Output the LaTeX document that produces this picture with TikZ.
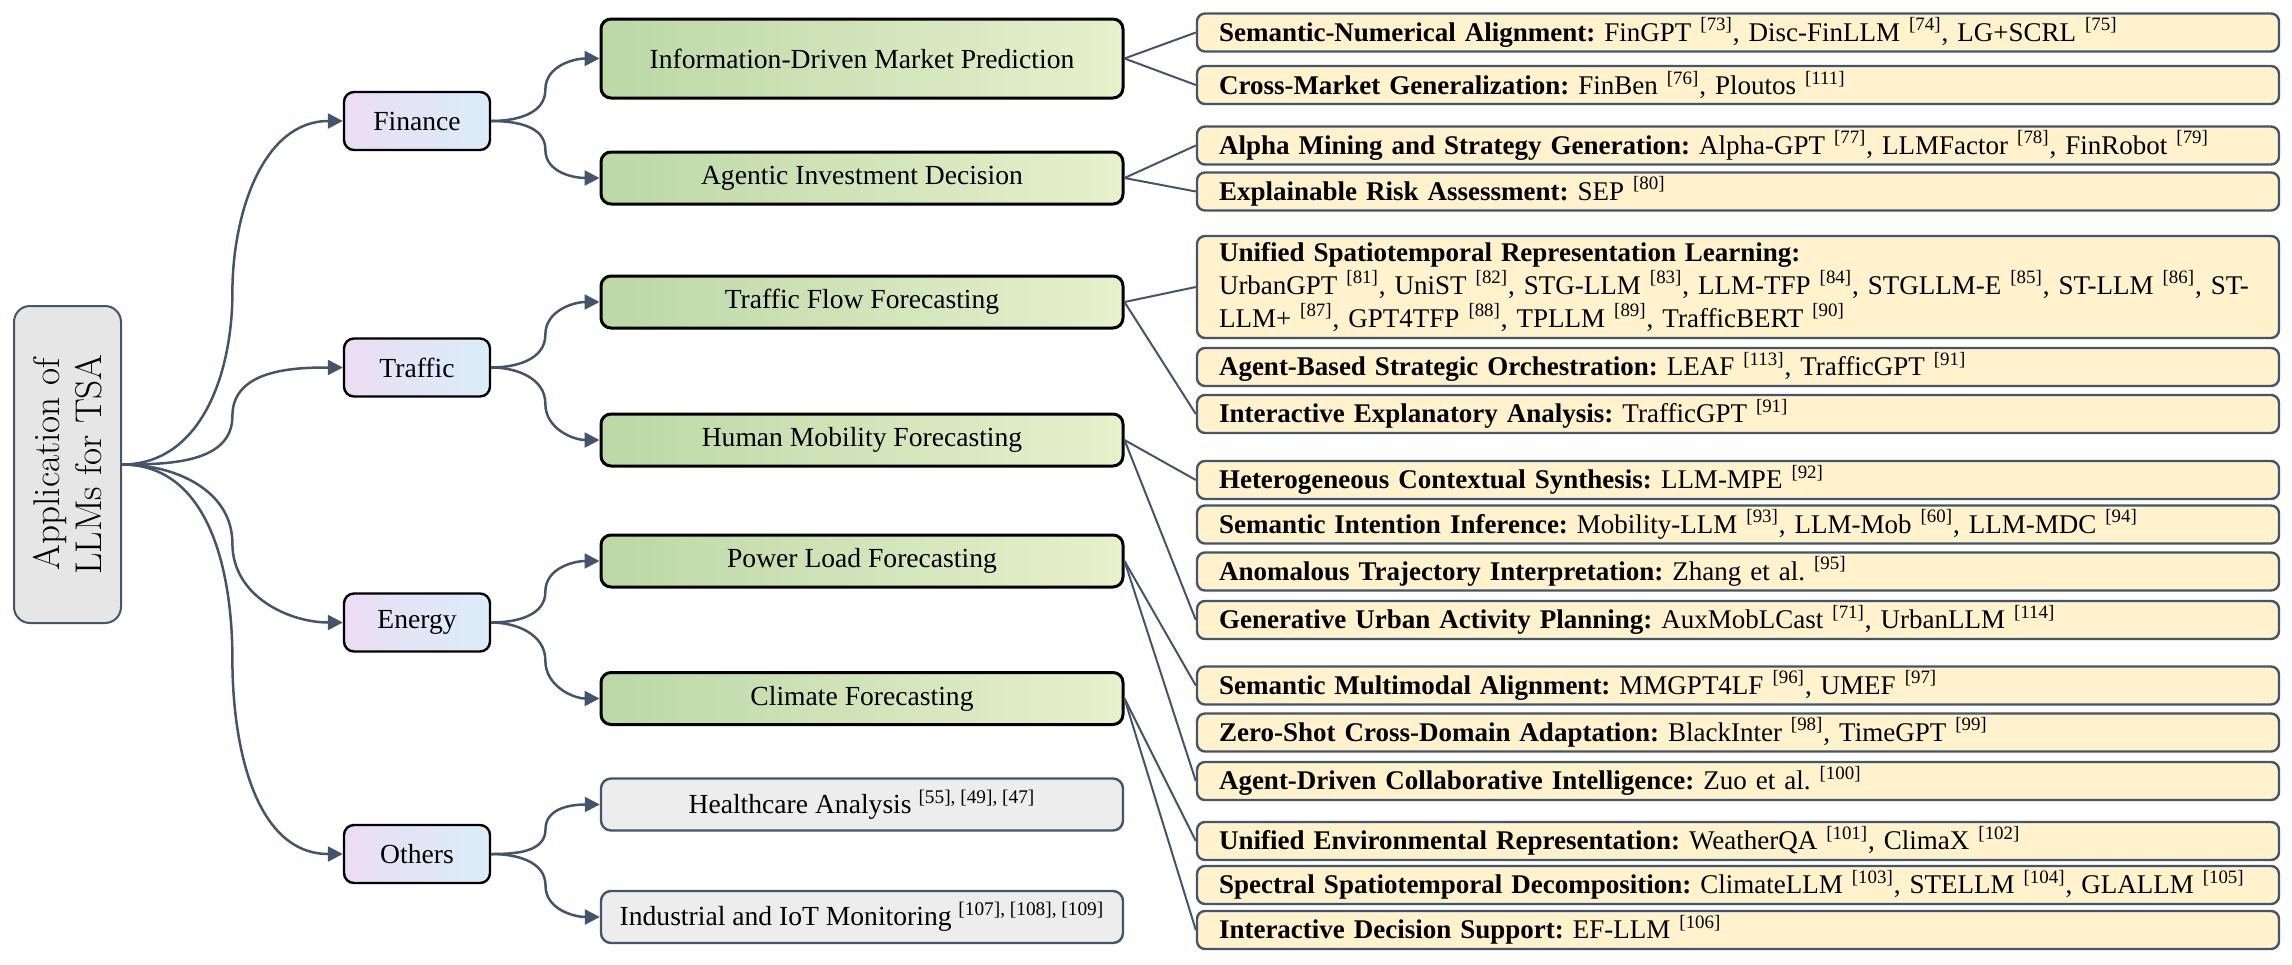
\documentclass[tikz,border=0pt]{standalone}
\usepackage{fontspec}
\newfontfamily\tnr{Liberation Serif}
\usetikzlibrary{arrows.meta,calc}
\definecolor{slate}{HTML}{44546A}
\definecolor{rootfill}{HTML}{E7E6E6}
\definecolor{otherfill}{HTML}{EDEDED}
\definecolor{leaffill}{HTML}{FFF2CC}
\definecolor{lonel}{HTML}{ECDDF4}
\definecolor{loner}{HTML}{DAEDF9}
\definecolor{ltwol}{HTML}{BBD8A6}
\definecolor{ltwor}{HTML}{E8F0CC}
\newcommand\refsup[1]{\textsuperscript{[#1]}}
\newcommand\curveup[2]{\draw[conn] (#1.east) to[out=0,in=-90] ($(#1.east)!0.5!(#2.west)$) to[out=90,in=180] (#2.west);}
\newcommand\curvedown[2]{\draw[conn] (#1.east) to[out=0,in=90] ($(#1.east)!0.5!(#2.west)$) to[out=-90,in=180] (#2.west);}
\tikzset{
  base/.style={rounded corners=5pt, inner sep=0pt, font=\tnr\fontsize{13.8}{16.3}\selectfont},
  rootbox/.style={draw=slate, line width=1pt, fill=rootfill, rounded corners=8pt, minimum width=53.5pt, minimum height=158.5pt},
  roottext/.style={rotate=90, align=center, inner sep=0pt, font=\fontsize{18.6}{21}\selectfont},
  lone/.style={base, draw=black, line width=1.2pt, left color=lonel, right color=loner, minimum width=73pt, minimum height=29pt},
  ltwo/.style={base, draw=black, line width=1.5pt, left color=ltwol, right color=ltwor, minimum width=261pt, minimum height=26pt},
  lother/.style={base, draw=slate, line width=1.2pt, fill=otherfill, minimum width=261pt, minimum height=26pt},
  leaf/.style={base, font=\tnr\fontsize{13.5}{16.3}\selectfont, draw=slate, line width=1.2pt, fill=leaffill, rounded corners=4pt, text width=519pt, inner xsep=11pt, inner ysep=2pt, minimum height=19pt, align=left},
  conn/.style={draw=slate, line width=1.25pt, -{Triangle[length=7.5pt,width=7.5pt]}},
  leafconn/.style={draw=slate, line width=1pt},
}
\begin{document}
\frenchspacing
\begin{tikzpicture}[x=0.5pt,y=0.5pt]
\path[use as bounding box] (0,0) rectangle (2292,-964);

% root
\node[rootbox] (root) at (67.5,-464.5) {};
\node[roottext] (rtext) at (root.center) {Application of\\LLMs for TSA};

% level 1
\node[lone] (fin) at (417,-121) {Finance};
\node[lone] (tra) at (417,-367.5) {Traffic};
\node[lone] (ene) at (417,-622.5) {Energy};
\node[lone] (oth) at (417,-854) {Others};

% level 2
\node[ltwo, minimum height=39.5pt] (idm) at (862,-58.5) {Information-Driven Market Prediction};
\node[ltwo] (aid) at (862,-178) {Agentic Investment Decision};
\node[ltwo] (tff) at (862,-302) {Traffic Flow Forecasting};
\node[ltwo] (hmf) at (862,-440) {Human Mobility Forecasting};
\node[ltwo] (plf) at (862,-561) {Power Load Forecasting};
\node[ltwo] (clf) at (862,-698.5) {Climate Forecasting};
\node[lother] (hca) at (862,-804.5) {Healthcare Analysis \textsuperscript{[55], [49], [47]}};
\node[lother] (iot) at (862,-917) {Industrial and IoT Monitoring \textsuperscript{[107], [108], [109]}};

% leaves
\node[leaf] (l1) at (1738,-32.5) {\mbox{\textbf{Semantic-Numerical Alignment:} FinGPT \refsup{73}, Disc-FinLLM \refsup{74}, LG+SCRL \refsup{75}}};
\node[leaf] (l2) at (1738,-85) {\mbox{\textbf{Cross-Market Generalization:} FinBen \refsup{76}, Ploutos \refsup{111}}};
\node[leaf] (l3) at (1738,-145.5) {\mbox{\textbf{Alpha Mining and Strategy Generation:} Alpha-GPT \refsup{77}, LLMFactor \refsup{78}, FinRobot \refsup{79}}};
\node[leaf] (l4) at (1738,-191.5) {\mbox{\textbf{Explainable Risk Assessment:} SEP \refsup{80}}};
\node[leaf, minimum height=51pt] (l5) at (1738,-287) {\textbf{Unified Spatiotemporal Representation Learning:}\\ \mbox{UrbanGPT \refsup{81}, UniST \refsup{82}, STG-LLM \refsup{83}, LLM-TFP \refsup{84}, STGLLM-E \refsup{85}, ST-LLM \refsup{86}, ST-}\\ \mbox{LLM+ \refsup{87}, GPT4TFP \refsup{88}, TPLLM \refsup{89}, TrafficBERT \refsup{90}}};
\node[leaf] (l6) at (1738,-367) {\mbox{\textbf{Agent-Based Strategic Orchestration:} LEAF \refsup{113}, TrafficGPT \refsup{91}}};
\node[leaf] (l7) at (1738,-414) {\mbox{\textbf{Interactive Explanatory Analysis:} TrafficGPT \refsup{91}}};
\node[leaf] (l8) at (1738,-480) {\mbox{\textbf{Heterogeneous Contextual Synthesis:} LLM-MPE \refsup{92}}};
\node[leaf] (l9) at (1738,-524.5) {\mbox{\textbf{Semantic Intention Inference:} Mobility-LLM \refsup{93}, LLM-Mob \refsup{60}, LLM-MDC \refsup{94}}};
\node[leaf] (l10) at (1738,-571.5) {\mbox{\textbf{Anomalous Trajectory Interpretation:} Zhang et al. \refsup{95}}};
\node[leaf] (l11) at (1738,-620) {\mbox{\textbf{Generative Urban Activity Planning:} AuxMobLCast \refsup{71}, UrbanLLM \refsup{114}}};
\node[leaf] (l12) at (1738,-685.5) {\mbox{\textbf{Semantic Multimodal Alignment:} MMGPT4LF \refsup{96}, UMEF \refsup{97}}};
\node[leaf] (l13) at (1738,-732.5) {\mbox{\textbf{Zero-Shot Cross-Domain Adaptation:} BlackInter \refsup{98}, TimeGPT \refsup{99}}};
\node[leaf] (l14) at (1738,-781) {\mbox{\textbf{Agent-Driven Collaborative Intelligence:} Zuo et al. \refsup{100}}};
\node[leaf] (l15) at (1738,-841) {\mbox{\textbf{Unified Environmental Representation:} WeatherQA \refsup{101}, ClimaX \refsup{102}}};
\node[leaf] (l16) at (1738,-885) {\mbox{\textbf{Spectral Spatiotemporal Decomposition:} ClimateLLM \refsup{103}, STELLM \refsup{104}, GLALLM \refsup{105}}};
\node[leaf] (l17) at (1738,-930) {\mbox{\textbf{Interactive Decision Support:} EF-LLM \refsup{106}}};

% curved arrows
\curveup{root}{fin}
\curveup{root}{tra}
\curvedown{root}{ene}
\curvedown{root}{oth}
\curveup{fin}{idm}
\curvedown{fin}{aid}
\curveup{tra}{tff}
\curvedown{tra}{hmf}
\curveup{ene}{plf}
\curvedown{ene}{clf}
\curveup{oth}{hca}
\curvedown{oth}{iot}

% straight leaf connectors
\draw[leafconn] (idm.east) -- (l1.west);
\draw[leafconn] (idm.east) -- (l2.west);
\draw[leafconn] (aid.east) -- (l3.west);
\draw[leafconn] (aid.east) -- (l4.west);
\draw[leafconn] (tff.east) -- (l5.west);
\draw[leafconn] (tff.east) -- (l7.west);
\draw[leafconn] (hmf.east) -- (l8.west);
\draw[leafconn] (hmf.east) -- (l11.west);
\draw[leafconn] (plf.east) -- (l12.west);
\draw[leafconn] (plf.east) -- (l14.west);
\draw[leafconn] (clf.east) -- (l15.west);
\draw[leafconn] (clf.east) -- (l17.west);
\end{tikzpicture}
\end{document}
